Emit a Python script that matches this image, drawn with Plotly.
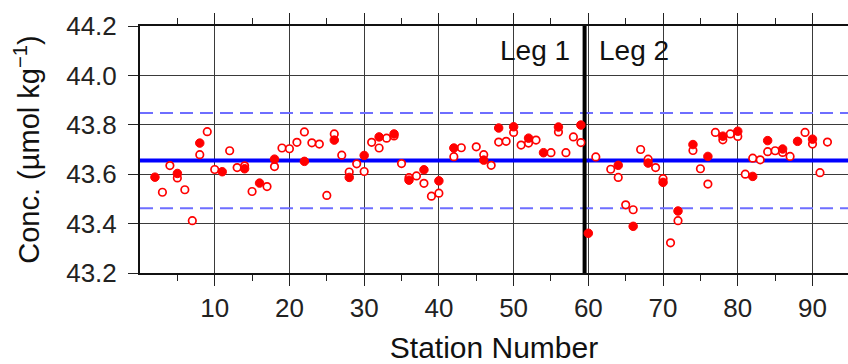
import plotly.graph_objects as go

# Replicate samples (open circles)
open_station = [3, 4, 5, 6, 7, 8, 9, 10, 12, 13, 14, 15, 17, 18, 19, 20, 21, 22, 23, 24,
                25, 26, 27, 28, 29, 30, 31, 32, 33, 34, 35, 36, 37, 38, 39, 40, 42, 43, 45, 46,
                47, 48, 49, 50, 51, 52, 53, 55, 56, 57, 58, 59, 61, 63, 64, 65, 66, 67, 68, 69,
                70, 71, 72, 74, 75, 76, 77, 78, 79, 80, 81, 82, 83, 84, 85, 86, 87, 89, 90, 91, 92]
open_conc = [43.527, 43.635, 43.585, 43.537, 43.412, 43.679, 43.772, 43.619, 43.695, 43.627,
             43.634, 43.530, 43.550, 43.631, 43.706, 43.703, 43.729, 43.771, 43.727, 43.722,
             43.514, 43.763, 43.677, 43.609, 43.642, 43.611, 43.729, 43.706, 43.746, 43.755,
             43.643, 43.586, 43.593, 43.563, 43.511, 43.523, 43.671, 43.707, 43.711, 43.679,
             43.636, 43.730, 43.733, 43.769, 43.718, 43.726, 43.738, 43.687, 43.771, 43.687,
             43.751, 43.728, 43.670, 43.620, 43.587, 43.476, 43.456, 43.700, 43.661, 43.627,
             43.582, 43.322, 43.412, 43.696, 43.622, 43.560, 43.769, 43.739, 43.763, 43.753,
             43.600, 43.665, 43.658, 43.691, 43.695, 43.688, 43.672, 43.769, 43.722, 43.606,
             43.730]

# Primary samples (filled circles)
filled_station = [2, 5, 8, 11, 14, 16, 18, 22, 26, 28, 30, 32, 34, 36, 38, 40, 42, 46, 48, 50,
                  52, 54, 56, 59, 60, 64, 66, 68, 70, 72, 74, 76, 78, 80, 82, 84, 86, 88, 90]
filled_conc = [43.588, 43.603, 43.726, 43.610, 43.622, 43.564, 43.661, 43.652, 43.738, 43.587,
               43.676, 43.751, 43.763, 43.576, 43.618, 43.573, 43.706, 43.657, 43.787, 43.792,
               43.746, 43.687, 43.791, 43.799, 43.361, 43.636, 43.389, 43.645, 43.567, 43.451,
               43.720, 43.672, 43.754, 43.774, 43.591, 43.736, 43.702, 43.733, 43.742]

mean_conc = 43.655
band_upper = 43.848
band_lower = 43.462
leg_boundary = 59.5

x_range = [0, 94.75]
y_range = [43.2, 44.2]
x_ticks = [10, 20, 30, 40, 50, 60, 70, 80, 90]
x_minor = [5, 15, 25, 35, 45, 55, 65, 75, 85]
y_ticks = [43.2, 43.4, 43.6, 43.8, 44.0, 44.2]

FONT = "Liberation Sans, Arial, Helvetica, sans-serif"
RED = "#ff0000"

fig = go.Figure()

# Mean and +/- band
for level in (band_upper, band_lower):
    fig.add_trace(go.Scatter(
        x=[x_range[0], x_range[1]], y=[level, level], mode="lines",
        line=dict(color="#6e6eff", width=2, dash="13px,7px"),
        hoverinfo="skip", showlegend=False))
fig.add_trace(go.Scatter(
    x=[x_range[0], x_range[1]], y=[mean_conc, mean_conc], mode="lines",
    line=dict(color="#0000ff", width=4), hoverinfo="skip", showlegend=False))

# Boundary between the two legs
fig.add_trace(go.Scatter(
    x=[leg_boundary, leg_boundary], y=y_range, mode="lines",
    line=dict(color="black", width=4), hoverinfo="skip", showlegend=False))

fig.add_trace(go.Scatter(
    x=open_station, y=open_conc, mode="markers", showlegend=False,
    marker=dict(symbol="circle", size=7.5, color="white",
                line=dict(color=RED, width=1.7))))
fig.add_trace(go.Scatter(
    x=filled_station, y=filled_conc, mode="markers", showlegend=False,
    marker=dict(symbol="circle", size=8.5, color=RED,
                line=dict(color=RED, width=1))))

fig.add_annotation(x=leg_boundary, y=44.1, xref="x", yref="y", text="Leg 1",
                   showarrow=False, xanchor="right", yanchor="middle", xshift=-13,
                   font=dict(family=FONT, size=28, color="#111"))
fig.add_annotation(x=leg_boundary, y=44.1, xref="x", yref="y", text="Leg 2",
                   showarrow=False, xanchor="left", yanchor="middle", xshift=12,
                   font=dict(family=FONT, size=28, color="#111"))

fig.update_xaxes(
    range=x_range, tickmode="array", tickvals=x_ticks, automargin=False,
    ticks="outside", ticklen=11, tickwidth=1.2, tickcolor="#222",
    minor=dict(tickmode="array", tickvals=x_minor, ticks="outside",
               ticklen=6, tickwidth=1.2, tickcolor="#222", showgrid=False),
    showgrid=True, gridcolor="#3a3a3a", gridwidth=1,
    showline=True, linecolor="#111", linewidth=2, mirror="allticks",
    zeroline=False, ticklabelstandoff=0,
    tickfont=dict(family=FONT, size=26, color="#222"),
    title=dict(text="Station Number", standoff=18,
               font=dict(family=FONT, size=30, color="#111")))

fig.update_yaxes(
    range=y_range, tickmode="array", tickvals=y_ticks, tickformat=".1f", automargin=False,
    ticks="outside", ticklen=10, tickwidth=1.2, tickcolor="#222",
    showgrid=True, gridcolor="#3a3a3a", gridwidth=1,
    showline=True, linecolor="#111", linewidth=2,
    zeroline=False, ticklabelstandoff=6,
    tickfont=dict(family=FONT, size=26, color="#222"),
    title=dict(text="Conc. (µmol kg<sup>−1</sup>)", standoff=18,
               font=dict(family=FONT, size=29, color="#111")))

fig.update_layout(
    width=848, height=364,
    margin=dict(l=140, r=0, t=26, b=91),
    paper_bgcolor="white", plot_bgcolor="white",
    showlegend=False)

fig.write_html("out.html")
